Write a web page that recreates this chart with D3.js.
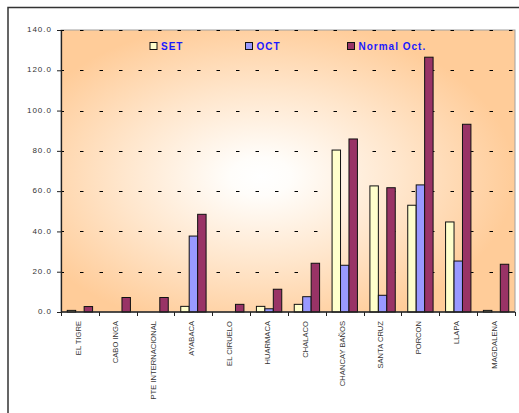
<!DOCTYPE html>
<html>
<head>
<meta charset="utf-8">
<script src="https://cdn.jsdelivr.net/npm/d3@7"></script>
<style>
  html, body { margin: 0; padding: 0; background: #fff; }
  svg { display: block; font-family: 'Liberation Sans', Arial, sans-serif; }
</style>
</head>
<body>
<svg id="chart"></svg>
<script>
const categories = ['EL TIGRE', 'CABO INGA', 'PTE INTERNACIONAL', 'AYABACA', 'EL CIRUELO',
  'HUARMACA', 'CHALACO', 'CHANCAY BAÑOS', 'SANTA CRUZ', 'PORCON', 'LLAPA', 'MAGDALENA'];
const seriesNames = ['SET', 'OCT', 'Normal Oct.'];
const setValues = [0.8, 0, 0, 2.8, 0, 2.8, 3.8, 80.4, 62.6, 53.0, 44.7, 0.8];
const octValues = [0, 0, 0, 37.7, 0, 1.6, 7.6, 23.2, 8.3, 63.1, 25.3, 0];
const normalValues = [2.7, 7.2, 7.2, 48.5, 3.8, 11.3, 24.2, 85.9, 61.7, 126.5, 93.2, 23.7];
const yTicks = [0, 20, 40, 60, 80, 100, 120, 140];

const colors = ['#FFFFCC', '#9999FF', '#993366'];
const seriesValues = [setValues, octValues, normalValues];

const width = 519;
const height = 413;
const plot = { left: 61, top: 30, right: 515, bottom: 312 };

const svg = d3.select('#chart')
  .attr('width', width)
  .attr('height', height)
  .attr('viewBox', [0, 0, width, height]);

// outer frame (runs off the picture on the right and bottom)
svg.append('rect')
  .attr('x', 8).attr('y', 7.5)
  .attr('width', 700).attr('height', 700)
  .attr('fill', '#fff')
  .attr('stroke', '#333')
  .attr('stroke-width', 1.5);

// plot area gradient
const defs = svg.append('defs');
const grad = defs.append('radialGradient')
  .attr('id', 'bg')
  .attr('cx', 0.44).attr('cy', 0.52)
  .attr('fx', 0.44).attr('fy', 0.52)
  .attr('r', 0.56);
grad.append('stop').attr('offset', 0).attr('stop-color', '#ffffff');
grad.append('stop').attr('offset', 0.12).attr('stop-color', '#fffdfa');
grad.append('stop').attr('offset', 0.55).attr('stop-color', '#ffe6cc');
grad.append('stop').attr('offset', 1).attr('stop-color', '#ffcc99');

svg.append('rect')
  .attr('x', plot.left).attr('y', plot.top)
  .attr('width', plot.right - plot.left)
  .attr('height', plot.bottom - plot.top)
  .attr('fill', 'url(#bg)')
  .attr('stroke', '#a0a0a0')
  .attr('stroke-width', 1);

// scales
const x0 = d3.scaleBand()
  .domain(categories)
  .range([plot.left, plot.right])
  .paddingInner(0.33)
  .paddingOuter(0.165);
const x1 = d3.scaleBand()
  .domain(seriesNames)
  .range([0, x0.bandwidth()]);
const y = d3.scaleLinear()
  .domain([0, 140])
  .range([plot.bottom, plot.top]);

// dashed grid
svg.append('g')
  .selectAll('line')
  .data(yTicks.filter((d) => d > 0))
  .join('line')
  .attr('x1', plot.left)
  .attr('x2', plot.right)
  .attr('y1', (d) => Math.round(y(d)) + 0.5)
  .attr('y2', (d) => Math.round(y(d)) + 0.5)
  .attr('stroke', '#000')
  .attr('stroke-width', 1)
  .attr('stroke-dasharray', '3.5 16')
  .attr('stroke-dashoffset', 0.5);

// bars
const rows = categories.map((c, i) => ({
  category: c,
  values: seriesNames.map((s, j) => ({ series: s, value: seriesValues[j][i], color: colors[j] })),
}));

svg.append('g')
  .selectAll('g')
  .data(rows)
  .join('g')
  .attr('transform', (d) => `translate(${x0(d.category)},0)`)
  .selectAll('rect')
  .data((d) => d.values.filter((v) => v.value > 0))
  .join('rect')
  .attr('x', (d) => x1(d.series))
  .attr('y', (d) => y(d.value))
  .attr('width', x1.bandwidth())
  .attr('height', (d) => y(0) - y(d.value))
  .attr('fill', (d) => d.color)
  .attr('stroke', '#111')
  .attr('stroke-width', 1);

// Y axis
const yAxis = svg.append('g')
  .attr('transform', `translate(${plot.left},0)`)
  .call(
    d3.axisLeft(y)
      .tickValues(yTicks)
      .tickFormat(d3.format('.1f'))
      .tickSize(4)
      .tickPadding(5)
      .tickSizeOuter(0)
  );
yAxis.select('.domain').attr('stroke', '#222').attr('stroke-width', 1.3);
yAxis.selectAll('.tick line').attr('stroke', '#222');
yAxis.selectAll('text')
  .attr('fill', '#333')
  .attr('font-size', 8)
  .attr('letter-spacing', 1)
  .attr('dy', '0.2em')
  .style('font-family', "'Liberation Sans', Arial, sans-serif");

// X axis: ticks at category boundaries
const step = x0.step();
const edge = (c) => x0(c) - (step * x0.paddingInner()) / 2;
const boundaries = categories.map(edge).concat([plot.right]);
const xAxis = svg.append('g');
xAxis.append('line')
  .attr('x1', plot.left).attr('x2', plot.right)
  .attr('y1', plot.bottom).attr('y2', plot.bottom)
  .attr('stroke', '#222').attr('stroke-width', 1.3);
xAxis.selectAll('line.tick')
  .data(boundaries)
  .join('line')
  .attr('class', 'tick')
  .attr('x1', (d) => Math.round(d) + 0.5)
  .attr('x2', (d) => Math.round(d) + 0.5)
  .attr('y1', plot.bottom)
  .attr('y2', plot.bottom + 4)
  .attr('stroke', '#222');
xAxis.selectAll('text')
  .data(categories)
  .join('text')
  .attr('transform', (d) => `translate(${x0(d) + x0.bandwidth() / 2 - 2},321) rotate(-90)`)
  .attr('text-anchor', 'end')
  .attr('dy', '0.35em')
  .attr('font-size', 7.6)
  .attr('fill', '#333')
  .text((d) => d);

// legend
const legendX = [150, 245.5, 347.5];
const legend = svg.append('g')
  .selectAll('g')
  .data(seriesNames)
  .join('g')
  .attr('transform', (d, i) => `translate(${legendX[i]},42.5)`);
legend.append('rect')
  .attr('width', 7).attr('height', 7)
  .attr('fill', (d, i) => colors[i])
  .attr('stroke', '#111');
legend.append('text')
  .attr('x', 11)
  .attr('y', 7)
  .attr('font-size', 10)
  .attr('font-weight', 'bold')
  .attr('letter-spacing', 1)
  .attr('fill', '#1a1aff')
  .text((d) => d);
</script>
</body>
</html>
